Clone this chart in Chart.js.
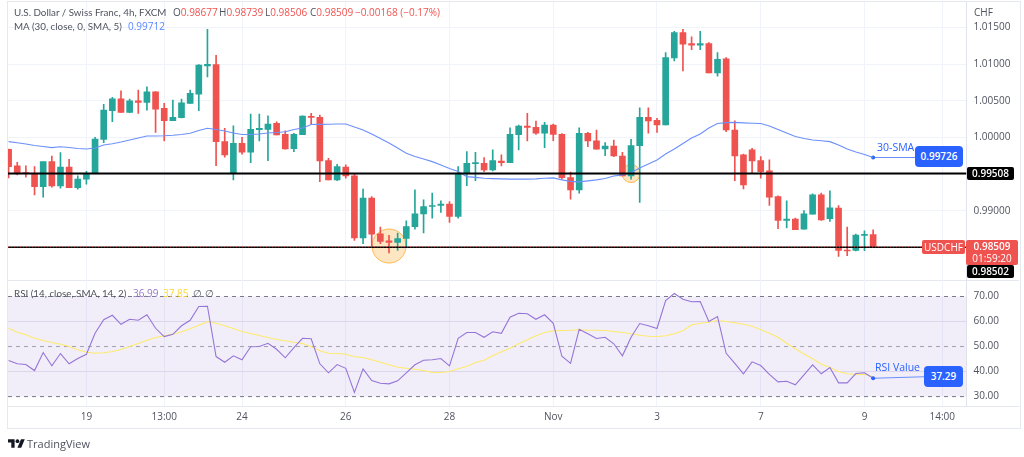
<!DOCTYPE html>
<html>
<head>
<meta charset="utf-8">
<script src="https://cdn.jsdelivr.net/npm/chart.js@4"></script>
<style>
  html, body { margin: 0; padding: 0; background: #fff; }
  #wrap { position: relative; width: 1024px; height: 457px; overflow: hidden; font-family: "Open Sans", sans-serif; font-size: 10px; color: #50535e; }
  #wrap div { position: absolute; white-space: nowrap; }
  canvas { position: absolute; left: 0; top: 0; }
  .frame { left: 7px; top: 1px; width: 1012px; height: 426px; border: 1px solid #e6e8ef; }
  .hr { left: 8px; width: 1011px; height: 1px; background: #e6e8ef; }
  .box { color: #fff; font-weight: 600; text-align: center; border-radius: 2px; }
  .red { color: #ef5350; }
  .blue { color: #2962ff; font-size: 10.5px; }
  .name { font-family: Lato, sans-serif; font-size: 9.8px; }
</style>
</head>
<body>
<div id="wrap">
  <div class="frame"></div>
  <div class="hr" style="top:280px"></div>
  <div class="hr" style="top:406px"></div>
  <canvas id="chart" width="1024" height="457"></canvas>

  <div class="name" style="left:14px;top:6px">U.S. Dollar / Swiss Franc, 4h, FXCM</div>
  <div style="left:173px;top:5px">O<span class="red">0.98677</span></div>
  <div style="left:219px;top:5px">H<span class="red">0.98739</span></div>
  <div style="left:265px;top:5px">L<span class="red">0.98506</span></div>
  <div style="left:310px;top:5px">C<span class="red">0.98509</span></div>
  <div class="red" style="left:355px;top:5px">&minus;0.00168 (&minus;0.17%)</div>
  <div class="name" style="left:14px;top:20px">MA (30, close, 0, SMA, 5)</div>
  <div style="left:128px;top:19px;color:#5b86ff">0.99712</div>
  <div style="left:974px;top:5px">CHF</div>

  <div class="name" style="left:14px;top:287px">RSI (14, close, SMA, 14, 2)</div>
  <div style="left:133px;top:286px;color:#9575cd">36.99</div>
  <div style="left:163px;top:286px;color:#fdd835">37.85</div>
  <div style="left:193px;top:286px">&empty;</div>
  <div style="left:205px;top:286px">&empty;</div>

  <div class="blue" style="left:877px;top:140px">30-SMA</div>
  <div class="box" style="left:915px;top:146px;width:48px;height:21px;line-height:21px;background:#2962ff;border-radius:4px">0.99726</div>
  <div class="blue" style="left:875px;top:360px">RSI Value</div>
  <div class="box" style="left:924px;top:366px;width:39px;height:21px;line-height:21px;background:#2962ff;border-radius:4px">37.29</div>

  <div class="box" style="left:967px;top:167px;width:47px;height:13px;line-height:13px;background:#000">0.99508</div>
  <div class="box" style="left:922px;top:240px;width:43px;height:14px;line-height:14px;background:#ef5350;font-weight:400">USDCHF</div>
  <div class="box" style="left:966px;top:240px;width:52px;height:25px;line-height:12px;background:#ef5350;padding-top:0">0.98509<br><span style="font-weight:400">01:59:20</span></div>
  <div class="box" style="left:967px;top:265px;width:47px;height:13px;line-height:13px;background:#000">0.98502</div>

  <svg style="position:absolute;left:8px;top:438px" width="17" height="11" viewBox="0 2 36 22">
    <path fill="#131722" d="M14 22H7V11H0V4h14v18zM28 22h-8l7.5-18h8L28 22z"/><circle fill="#131722" cx="20" cy="8" r="4"/>
  </svg>
  <div style="left:27px;top:436px;font-size:11px">TradingView</div>
</div>

<script>
const opens = [
  .99838,.99611,.9952,.99512,.9933,.9967,.9934,.99594,.99316,.99431,
  .99512,.99974,1.00363,1.00526,1.00341,1.00499,1.00477,1.00621,1.00395,1.00227,
  1.00268,1.00463,1.0059,1.00974,1.00993,.99942,.9952,.9992,.99798,1.00105,
  1.0011,1.00192,1.00042,.99846,1.00037,1.00287,1.00273,.99683,.99421,.99594,
  .99475,.98629,.99172,.98687,.98592,.98569,.98623,.98782,.98959,.99058,
  .99072,.99091,.98922,.99512,.99643,.99648,.99557,.99679,.99656,1.00037,
  1.00155,1.00137,1.00056,1.00169,1.00042,.99452,.99285,1.00056,.99955,.99842,
  .99883,.99747,.99475,.99887,1.00273,1.00232,1.00169,1.01083,1.01428,1.01279,
  1.01256,1.01279,1.00879,1.0107,1.00101,.99761,.99829,.99683,.99543,.99194,
  .98868,.98887,.98751,.98955,.99217,.98891,.99036,.98466,.9846,.98664,.98677
];
const closes = [
  .99602,.99512,.99507,.9933,.9967,.9934,.99594,.99316,.99431,.99512,
  .99978,1.00372,1.00526,1.00341,1.00499,1.00477,1.00621,1.00386,1.00227,1.00273,
  1.00472,1.00599,1.00984,1.00997,.99942,.99761,.9992,.99798,1.0011,1.00124,
  1.00182,1.00033,.99842,1.00042,1.00291,1.00273,.99679,.99421,.99602,.99475,
  .98629,.99172,.98683,.98583,.98569,.98623,.98786,.98959,.99058,.99072,
  .99091,.98922,.99512,.99648,.99656,.99557,.99683,.99656,1.00042,1.00155,
  1.00137,1.00056,1.00169,1.00042,.99452,.99285,1.00056,.99951,.99838,.99883,
  .99747,.99475,.99887,1.00273,1.00223,1.00169,1.01089,1.01428,1.01269,1.01256,
  1.01279,1.00879,1.01065,1.00101,.99747,.99353,.99679,.99534,.99186,.98868,
  .98887,.98742,.98959,.99217,.98877,.99041,.9846,.98452,.9867,.98677,.98509
];
const highs = [
  .99842,.99662,.99611,.99602,.99665,.99747,.99792,.99702,.99475,.99539,
  1.00001,1.0045,1.00545,1.00635,1.00522,1.00644,1.00689,1.00625,1.00463,1.00508,
  1.00522,1.00644,1.00993,1.01473,1.0112,1.00124,1.00159,1.00001,1.00318,1.00318,
  1.00295,1.00213,1.00091,1.00056,1.00295,1.00328,1.00304,.99716,.99634,.99625,
  .99512,.99295,.99194,.98778,.98664,.98697,.98864,.99285,.99149,.9924,
  .99136,.99126,.99602,.99806,.99798,.99724,.99829,.99761,1.00132,1.00169,
  1.00328,1.00223,1.00205,1.00182,1.00053,.99526,1.00132,1.00069,1.00101,.99928,
  .99965,.99798,.99974,1.00404,1.00404,1.0026,1.01157,1.01446,1.01473,1.01369,
  1.01446,1.01292,1.01157,1.01089,1.00227,.99774,.99852,.99738,.99693,.99204,
  .99136,.98901,.99004,.99231,.9924,.99272,.99072,.98778,.98683,.98728,.98739
];
const lows = [
  .99448,.99489,.99458,.99217,.99186,.99322,.99308,.99316,.99295,.99363,
  .99512,.99928,1.00213,1.00341,1.00336,1.00328,1.00372,1.00069,.99951,1.00227,
  1.00264,1.00463,1.00363,1.00825,.99615,.9973,.99421,.9977,.99656,.99951,
  .99683,1.00033,.99838,.99806,1.00037,1.00178,.99398,.99421,.99412,.99444,
  .98596,.98551,.98515,.98551,.98425,.9846,.98515,.98751,.98697,.98901,
  .98977,.98841,.98901,.99344,.99412,.99534,.99543,.99611,.99656,.99829,
  .99951,1.00042,.9986,.99955,.99431,.99159,.9924,.99874,.99838,.99751,
  .99738,.99475,.99431,.99113,1.00056,1.00069,1.00169,1.01042,1.00906,1.01197,
  1.01197,1.00879,1.00834,1.00077,.99412,.99299,.99512,.99444,.99072,.98755,
  .98765,.98742,.98751,.98955,.98868,.98854,.98379,.98388,.98452,.98456,.98506
];
const maValues = [
  .99942,.99927,.9991,.9989,.99876,.99861,.99872,.99863,.99849,.99842,
  .99856,.99897,.99914,.99937,.99965,.99992,1.00019,1.00019,1.00022,1.00029,
  1.00039,1.00056,1.00094,1.00124,1.00107,1.00087,1.0006,1.00039,1.00039,1.00046,
  1.0006,1.00067,1.00077,1.00107,1.00128,1.00175,1.00178,1.00179,1.00182,1.00182,
  1.00141,1.00101,1.00046,.99985,.99924,.99856,.99784,.9974,.99706,.9967,
  .99625,.99577,.99534,.99466,.99455,.99444,.99439,.99435,.99431,.99431,
  .99431,.99435,.99444,.99448,.99421,.99401,.99394,.99408,.99421,.99441,
  .99475,.99489,.9952,.99584,.99639,.99693,.99774,.99842,.99917,.99992,
  1.00046,1.00128,1.00189,1.00202,1.00205,1.00198,1.00193,1.00189,1.00155,1.00107,
  1.0006,1.00012,.99985,.99965,.99955,.99942,.99897,.99842,.99802,.99768,.99726
];
const rsiValues = [
  44.4,43.1,42.8,40.4,47.6,42.3,47.2,43.1,45.2,46.9,
  55.3,60.7,62.5,58.9,60.9,60.5,62.7,57.3,54,54.9,
  58.3,60.5,66,66.1,46,43.7,46.3,44.7,49.9,50,
  51.3,48.9,45.5,49.6,53.3,53.1,43.1,39.5,42.8,41.3,
  31.7,41.1,36.4,35.3,35.1,36.3,39.5,42.7,44.5,44.7,
  45.2,42.3,53.3,55.6,55.6,53.7,55.9,55.3,61.7,63.3,
  63.1,60.9,62.7,59.3,46.1,43.3,56.9,55.1,53.2,53.7,
  51.1,46.3,53.7,59.2,58.3,57.2,68.4,71.2,68.9,67.9,
  68,60,62,47.3,43.3,39.1,43.9,42.4,38.9,35.9,
  36.1,34.7,38.7,42.7,39.1,41.6,35.5,35.5,39.2,39.5,37.3
];
const rsiMaValues = [
  57.3,55.7,54.7,53.3,52.4,51.6,50.9,50,48.7,47.7,
  47.3,47.5,48,48.8,50,51.2,52.5,53.6,54.3,54.9,
  55.9,57.1,58.5,59.9,59.3,58.3,57.2,56,55.2,54.4,
  53.6,52.8,52.3,51.7,51.2,49.9,48.3,47.3,47.2,46.9,
  45.9,45.6,44.7,43.7,42.7,41.7,41.3,40.9,40.4,39.6,
  39.6,40,41.1,42,43.6,44.5,46.3,47.9,49.3,51.1,
  52.7,54.3,55.6,56.3,56.4,56.5,56.7,56.5,56.5,56.4,
  56,55.6,55.1,54.5,54.1,54,54.3,55.1,56.3,58.7,
  59.3,59.7,60.4,60,59.5,58.9,58.1,56.7,55.3,53.7,
  51.3,49.1,47,45.1,42.9,41.6,40,39.1,38.8,38.9,37.9
];

// candle index -> label on the time axis
const timeTicks = [9, 18, 27, 39, 51, 63, 75, 87, 99, 108];
const timeLabels = ['19', '13:00', '24', '26', '28', 'Nov', '3', '7', '9', '14:00'];
const priceTicks = [0.985, 0.99, 0.995, 1, 1.005, 1.01, 1.015];
const hiddenPriceTicks = [0.985, 0.995]; // covered by the black tags
const rsiTicks = [30, 40, 50, 60, 70];

const supportLevels = [0.99508, 0.98502];
const lastPrice = 0.98509;
const highlights = [{ x: 44, y: 0.9852, r: 17 }, { x: 72, y: 0.99508, r: 9 }];

const upColor = '#26a69a';
const downColor = '#ef5350';
const candleColors = opens.map((o, i) => closes[i] >= o ? upColor : downColor);
const xMin = -0.07, xMax = 110.8;

function hline(value, yAxisID, opts) {
  return Object.assign({
    type: 'line', yAxisID, pointRadius: 0, borderWidth: 1, tension: 0,
    data: [{ x: xMin, y: value }, { x: xMax, y: value }]
  }, opts);
}
function series(values, yAxisID, color) {
  return {
    type: 'line', yAxisID, borderColor: color, borderWidth: 1.1, pointRadius: 0, tension: 0,
    data: values.map((y, x) => ({ x, y }))
  };
}
// panes sit flush, so no room for half a tick label above or below them
function flatPane(axis) {
  axis.width = 51.5;
  axis.paddingTop = 0;
  axis.paddingBottom = 0;
}

const config = {
  data: {
    datasets: [
      // price pane
      { type: 'bubble', yAxisID: 'y', data: highlights, order: 10, backgroundColor: 'rgba(255,167,38,0.28)', borderColor: '#ffb74d', borderWidth: 1 },
      hline(supportLevels[0], 'y', { borderColor: '#000', borderWidth: 2, order: 3 }),
      hline(supportLevels[1], 'y', { borderColor: '#000', borderWidth: 1.5, order: 4 }),
      hline(lastPrice, 'y', { borderColor: downColor, borderDash: [1, 2], order: 2 }),
      Object.assign(series(maValues, 'y', '#6c90fb'), { order: 5 }),
      { type: 'line', yAxisID: 'y', order: 5, borderColor: '#6c90fb', borderWidth: 1.1, tension: 0,
        pointRadius: [2, 0], pointBackgroundColor: '#2962ff', pointBorderWidth: 0,
        data: [{ x: 100, y: 0.99726 }, { x: 104.9, y: 0.99726 }] },
      { type: 'bar', yAxisID: 'y', grouped: false, order: 6, barThickness: 6, minBarLength: 1,
        backgroundColor: candleColors, borderWidth: 0,
        data: opens.map((o, x) => ({ x, y: [o, closes[x]] })) },
      { type: 'bar', yAxisID: 'y', grouped: false, order: 7, barThickness: 1,
        backgroundColor: candleColors, borderWidth: 0,
        data: highs.map((h, x) => ({ x, y: [lows[x], h] })) },
      // rsi pane
      hline(70, 'rsi', { borderColor: '#787b86', borderDash: [4, 4], order: 9,
        fill: { value: 30 }, backgroundColor: 'rgba(126,87,194,0.1)' }),
      hline(50, 'rsi', { borderColor: '#a5a7b0', borderDash: [4, 4], order: 9 }),
      hline(30, 'rsi', { borderColor: '#787b86', borderDash: [4, 4], order: 9 }),
      Object.assign(series(rsiMaValues, 'rsi', '#fdeb6b'), { order: 8 }),
      Object.assign(series(rsiValues, 'rsi', '#9575d8'), { order: 7 }),
      { type: 'line', yAxisID: 'rsi', order: 6, borderColor: '#6c90fb', borderWidth: 1.1, tension: 0,
        pointRadius: [2, 0], pointBackgroundColor: '#2962ff', pointBorderWidth: 0,
        data: [{ x: 100, y: 37.3 }, { x: 105.9, y: 37.9 }] }
    ]
  },
  options: {
    responsive: false,
    animation: false,
    devicePixelRatio: 1,
    layout: { autoPadding: false, padding: { left: 8, right: 6, top: 2, bottom: 29 } },
    plugins: { legend: { display: false }, tooltip: { enabled: false } },
    scales: {
      x: {
        type: 'linear', position: 'bottom', offset: false, min: xMin, max: xMax,
        afterBuildTicks: axis => { axis.ticks = timeTicks.map(value => ({ value })); },
        afterFit: axis => { axis.height = 22; axis.paddingLeft = 0; axis.paddingRight = 0; },
        grid: { color: '#f0f3fa', drawTicks: false, offset: false },
        border: { display: false },
        ticks: {
          autoSkip: false, maxRotation: 0, padding: 5, color: '#50535e',
          font: { family: 'Open Sans', size: 10 },
          callback: v => timeLabels[timeTicks.indexOf(v)]
        }
      },
      y: {
        type: 'linear', position: 'right', stack: 'panes', stackWeight: 278, weight: 1,
        min: 0.98057, max: 1.01845,
        afterBuildTicks: axis => { axis.ticks = priceTicks.map(value => ({ value })); },
        afterFit: flatPane,
        grid: { color: '#f0f3fa', drawTicks: false },
        border: { color: '#e0e3eb' },
        ticks: {
          padding: 7, color: '#50535e', font: { family: 'Open Sans', size: 10 },
          callback: v => hiddenPriceTicks.includes(v) ? '' : v.toFixed(5)
        }
      },
      rsi: {
        type: 'linear', position: 'right', stack: 'panes', stackWeight: 126, weight: 2,
        min: 26.24, max: 76.59,
        afterBuildTicks: axis => { axis.ticks = rsiTicks.map(value => ({ value })); },
        afterFit: flatPane,
        grid: { color: ctx => ctx.tick && ctx.tick.value % 20 === 0 ? '#e8e5f0' : 'transparent', drawTicks: false },
        border: { color: '#e0e3eb' },
        ticks: {
          padding: 7, color: '#50535e', font: { family: 'Open Sans', size: 10 },
          callback: v => v.toFixed(2)
        }
      }
    }
  }
};

new Chart(document.getElementById('chart'), config);
</script>
</body>
</html>
